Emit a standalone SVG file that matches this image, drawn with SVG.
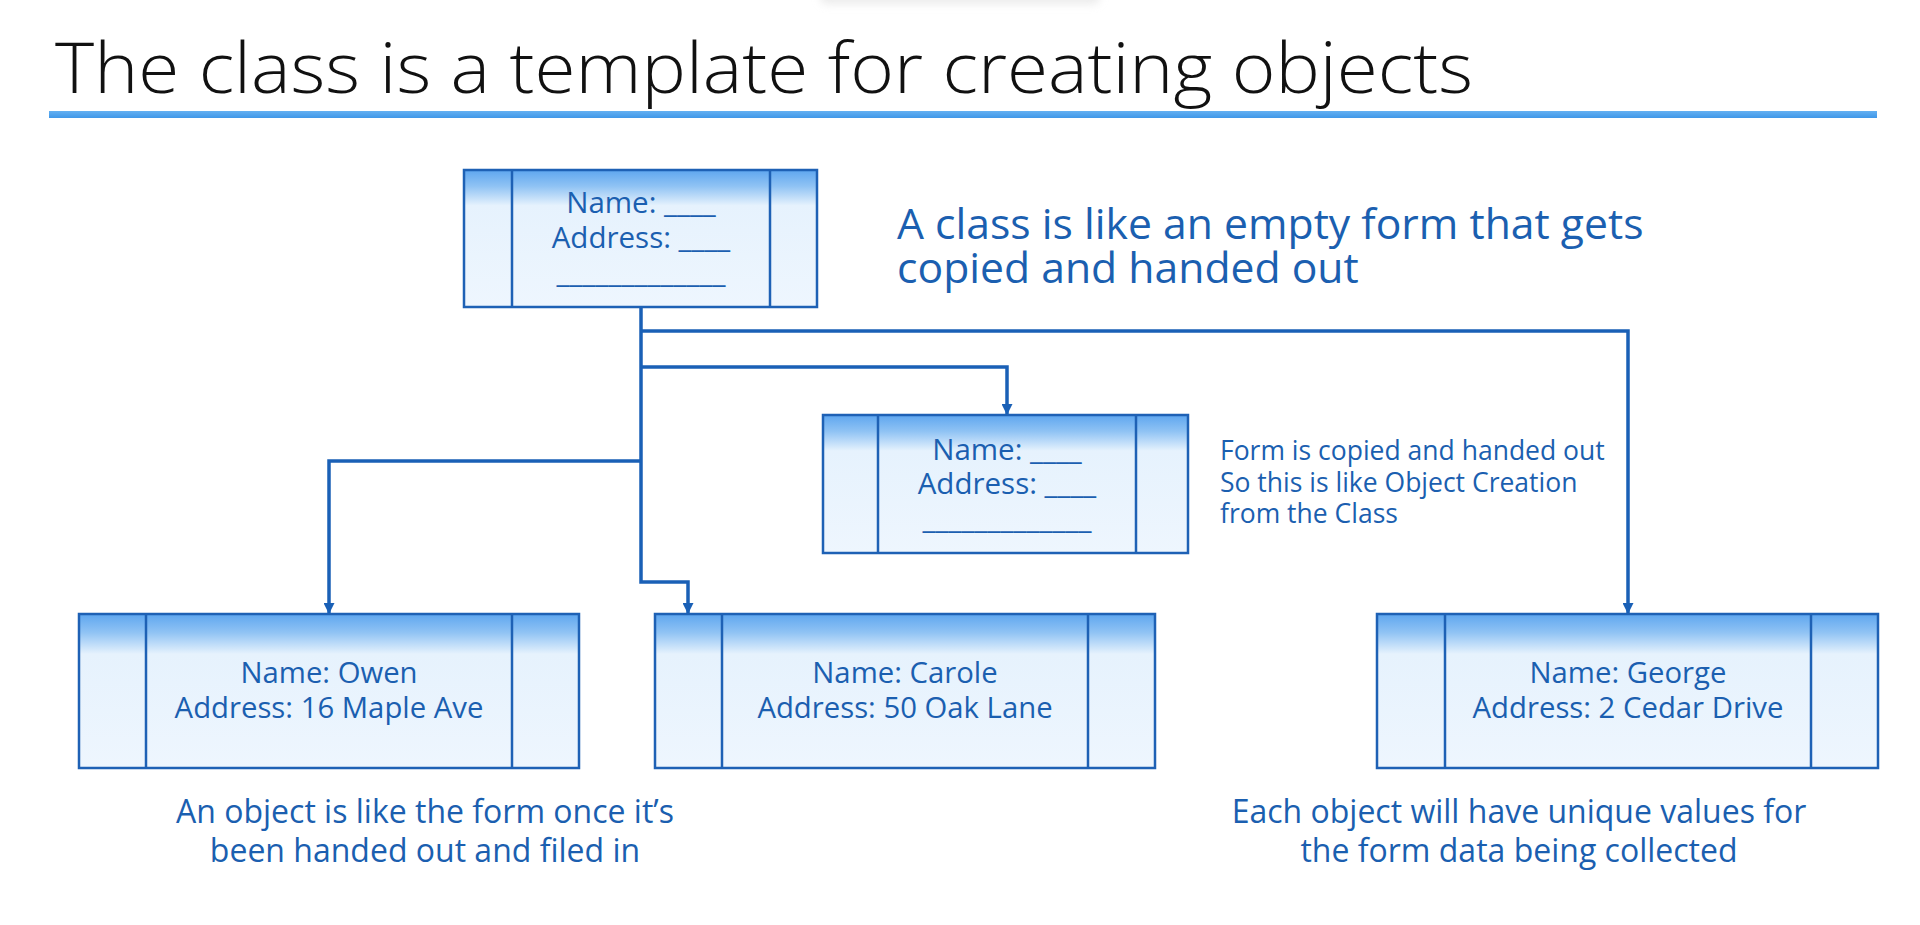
<svg xmlns="http://www.w3.org/2000/svg" width="1920" height="925" viewBox="0 0 1920 925">
  <style>
    .title { font-family: "Open Sans", "Liberation Sans", sans-serif; font-size: 70px; font-weight: 300; fill: #111111; }
    .form { fill: url(#formFill); stroke: #1e61b5; stroke-width: 2.5; }
    .divider { stroke: #1e61b5; stroke-width: 2.5; }
    .field { font-family: "Open Sans", "Liberation Sans", sans-serif; font-size: 29.5px; fill: #1b5fb0; text-anchor: middle; }
    .value { font-family: "Open Sans", "Liberation Sans", sans-serif; font-size: 29.3px; fill: #1b5fb0; text-anchor: middle; }
    .note { font-family: "Open Sans", "Liberation Sans", sans-serif; fill: #1b5fb0; }
    .link { fill: none; stroke: #1a60b6; stroke-width: 3.5; stroke-linejoin: miter; marker-end: url(#arrow); }
  </style>
  <defs>
    <linearGradient id="formFill" x1="0" y1="0" x2="0" y2="1">
      <stop offset="0" stop-color="#5ea6ef"/>
      <stop offset="0.12" stop-color="#90c3f4"/>
      <stop offset="0.26" stop-color="#e6f2fd"/>
      <stop offset="1" stop-color="#eef6fe"/>
    </linearGradient>
    <linearGradient id="ruleFill" x1="0" y1="0" x2="0" y2="1">
      <stop offset="0" stop-color="#63b0f2"/>
      <stop offset="1" stop-color="#3f97e8"/>
    </linearGradient>
    <filter id="soft" x="-20%" y="-200%" width="140%" height="500%">
      <feGaussianBlur stdDeviation="4"/>
    </filter>
    <marker id="arrow" viewBox="0 0 10 10" refX="10" refY="5" markerWidth="11" markerHeight="11" markerUnits="userSpaceOnUse" orient="auto">
      <path d="M0,0 L10,5 L0,10 z" fill="#1a60b6"/>
    </marker>
  </defs>

  <!-- faint shade along the top edge -->
  <rect x="820" y="-10" width="280" height="14" rx="7" fill="#d8d8d8" opacity="0.5" filter="url(#soft)"/>

  <!-- heading and rule -->
  <text class="title" x="55" y="93" textLength="1418" lengthAdjust="spacingAndGlyphs">The class is a template for creating objects</text>
  <rect x="49" y="111" width="1828" height="7" fill="url(#ruleFill)"/>

  <!-- connectors -->
  <g id="connectors">
    <path class="link" d="M641,307 V582 H688 V614"/>
    <path class="link" d="M641,331 H1628 V614"/>
    <path class="link" d="M641,367 H1007 V415"/>
    <path class="link" d="M641,461 H329 V614"/>
  </g>

  <!-- the class: an empty form -->
  <g id="class-form">
    <rect class="form" x="464" y="170" width="353" height="137"/>
    <line class="divider" x1="512" y1="170" x2="512" y2="307"/>
    <line class="divider" x1="770" y1="170" x2="770" y2="307"/>
    <text class="field" x="641" y="213">Name: ____</text>
    <text class="field" x="641" y="248">Address: ____</text>
    <text class="field" x="641" y="283" textLength="169" lengthAdjust="spacingAndGlyphs">_____________</text>
  </g>

  <!-- a copy of the empty form -->
  <g id="copied-form">
    <rect class="form" x="823" y="415" width="365" height="138"/>
    <line class="divider" x1="878" y1="415" x2="878" y2="553"/>
    <line class="divider" x1="1136" y1="415" x2="1136" y2="553"/>
    <text class="field" x="1007" y="460">Name: ____</text>
    <text class="field" x="1007" y="494">Address: ____</text>
    <text class="field" x="1007" y="529" textLength="169" lengthAdjust="spacingAndGlyphs">_____________</text>
  </g>

  <!-- filled-in forms -->
  <g id="object-owen">
    <rect class="form" x="79" y="614" width="500" height="154"/>
    <line class="divider" x1="146" y1="614" x2="146" y2="768"/>
    <line class="divider" x1="512" y1="614" x2="512" y2="768"/>
    <text class="value" x="329" y="683">Name: Owen</text>
    <text class="value" x="329" y="718">Address: 16 Maple Ave</text>
  </g>

  <g id="object-carole">
    <rect class="form" x="655" y="614" width="500" height="154"/>
    <line class="divider" x1="722" y1="614" x2="722" y2="768"/>
    <line class="divider" x1="1088" y1="614" x2="1088" y2="768"/>
    <text class="value" x="905" y="683">Name: Carole</text>
    <text class="value" x="905" y="718">Address: 50 Oak Lane</text>
  </g>

  <g id="object-george">
    <rect class="form" x="1377" y="614" width="501" height="154"/>
    <line class="divider" x1="1445" y1="614" x2="1445" y2="768"/>
    <line class="divider" x1="1811" y1="614" x2="1811" y2="768"/>
    <text class="value" x="1628" y="683">Name: George</text>
    <text class="value" x="1628" y="718">Address: 2 Cedar Drive</text>
  </g>

  <!-- explanatory notes -->
  <g id="note-class">
    <text class="note" font-size="42.7" x="897" y="239">A class is like an empty form that gets</text>
    <text class="note" font-size="42.7" x="897" y="283">copied and handed out</text>
  </g>
  <g id="note-copy">
    <text class="note" font-size="26.5" x="1220" y="460">Form is copied and handed out</text>
    <text class="note" font-size="26.5" x="1220" y="492">So this is like Object Creation</text>
    <text class="note" font-size="26.5" x="1220" y="523">from the Class</text>
  </g>
  <g id="note-object">
    <text class="note" font-size="32" x="425" y="823" text-anchor="middle">An object is like the form once it’s</text>
    <text class="note" font-size="32" x="425" y="862" text-anchor="middle">been handed out and filed in</text>
  </g>
  <g id="note-values">
    <text class="note" font-size="32" x="1519" y="823" text-anchor="middle">Each object will have unique values for</text>
    <text class="note" font-size="32" x="1519" y="862" text-anchor="middle">the form data being collected</text>
  </g>
</svg>
